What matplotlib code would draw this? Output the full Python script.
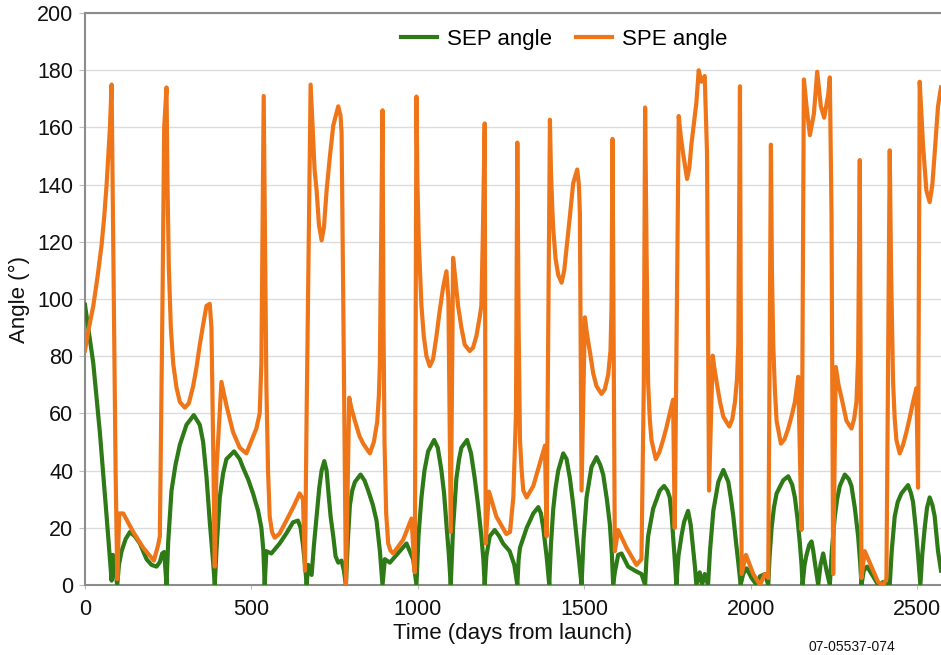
import matplotlib
matplotlib.use('Agg')
import matplotlib.pyplot as plt

plt.rcParams['font.family'] = ['Liberation Sans', 'DejaVu Sans']

# SEP angle (green)
sep_days = [0, 25, 45, 65, 80, 84, 97, 102, 110, 122, 135, 150, 165, 185, 200, 215,
            225, 232, 238, 245,
            250, 260, 272, 285, 305, 327, 345, 355, 365, 375, 385, 390,
            395, 405, 415, 425, 448, 465, 475, 490, 505, 520, 530, 536, 540,
            545, 560, 585, 605, 625, 640, 648, 655, 662, 666,
            671, 681, 688, 696, 704, 711, 719, 726, 731, 738, 746, 753, 761, 771, 778, 784,
            790, 796, 803, 811, 828, 840, 851, 865, 876, 886, 894,
            901, 916, 936, 966, 986, 996,
            1002, 1011, 1020, 1031, 1049, 1060, 1071, 1079, 1086, 1093, 1099,
            1106, 1116, 1124, 1131, 1148, 1160, 1171, 1181, 1191, 1197, 1201,
            1206, 1216, 1231, 1245, 1256, 1276, 1290, 1299,
            1303, 1307, 1327, 1347, 1362, 1370, 1377, 1387, 1395,
            1400, 1407, 1414, 1422, 1437, 1447, 1457, 1467, 1477, 1485, 1492,
            1498, 1507, 1522, 1537, 1548, 1557, 1568, 1577, 1583, 1587,
            1592, 1602, 1612, 1632, 1652, 1672, 1683,
            1687, 1692, 1707, 1727, 1740, 1750, 1757, 1763, 1767, 1772, 1777,
            1783, 1792, 1800, 1812, 1820, 1827, 1833, 1837,
            1847, 1854, 1862, 1872,
            1878, 1888, 1903, 1918, 1933, 1941, 1948, 1956, 1963, 1970,
            1978, 1988, 2003, 2018, 2028, 2043, 2053,
            2057, 2063, 2070, 2078, 2098, 2113, 2125, 2133, 2141, 2148, 2153, 2156,
            2162, 2168, 2176, 2183, 2188, 2193, 2203, 2210, 2218, 2223, 2228, 2238,
            2244, 2253, 2260, 2268, 2283, 2295, 2303, 2313, 2323, 2329, 2333,
            2340, 2350, 2368, 2383, 2398, 2418,
            2424, 2433, 2442, 2453, 2473, 2482, 2488, 2496, 2503, 2510,
            2516, 2523, 2530, 2538, 2546, 2553, 2558, 2563, 2572]
sep_vals = [98, 77.5, 53, 24, 1.5, 10.5, 0, 7, 11.8, 16, 18.5, 17, 14.5, 9, 7, 6.4,
            8, 11, 11.5, 0,
            15, 33, 42, 49, 56, 59.4, 56, 50, 38, 22, 8, 0,
            12, 30.6, 39, 44, 46.7, 44, 41, 37, 32, 26, 20, 12, 0,
            11.8, 11, 14.5, 18, 21.9, 22.5, 20, 14, 6, 0,
            7, 3.5, 14, 24, 34, 40, 43.3, 40, 33, 24, 17, 10, 7.8, 8.5, 5, 0,
            16, 27.9, 33, 36, 38.6, 36.5, 33, 28, 22.5, 12, 0,
            9, 7.8, 10.5, 14.5, 9, 0,
            17, 30.6, 40, 46.7, 50.7, 48, 40, 32, 21.2, 11, 0,
            20, 37.3, 44, 48, 50.7, 46, 37.3, 28, 17, 9, 0,
            10, 17, 19.2, 17, 14.5, 11.8, 7, 0,
            9, 13, 19.9, 25, 27.2, 25, 19.9, 10, 0,
            14, 26.6, 34, 40, 46, 44, 37.3, 28, 17, 8, 0,
            16, 30.6, 41.3, 44.7, 42, 38.6, 30, 21.2, 11, 0,
            4.4, 10.5, 11, 6.4, 5, 3.8, 0,
            9, 17, 26.6, 33, 34.6, 33, 30.6, 24, 17, 9, 0,
            10, 17, 22, 25.9, 21, 13, 6, 0,
            4.4, 0, 3.8, 0,
            12, 26, 36, 40.2, 36, 30, 24, 15, 7.8, 0,
            4, 5.8, 2.4, 0, 3, 3.8, 0,
            10, 19.9, 27, 32, 36.6, 38, 35, 30.6, 23, 14.5, 7, 0,
            7, 10.5, 14, 15.2, 12, 7.8, 0, 7, 11, 8, 5, 0,
            12, 24, 30, 34.6, 38.6, 37, 34.6, 27, 17, 8, 0,
            5, 6.4, 3, 0, 1, 0,
            12, 24, 29, 32, 34.9, 32, 29, 20, 10.5, 0,
            11, 19.9, 27, 30.6, 28, 24, 18, 11.8, 5]

# SPE angle (orange)
spe_days = [0, 12, 25, 38, 50, 58, 65, 70, 75, 80, 85, 92, 97, 103, 115, 145, 175,
            207, 220, 225, 233, 238,
            245, 248, 252, 258, 265, 275, 285, 300, 312, 325, 335, 345, 355, 365,
            375, 380, 385, 390, 395,
            410, 425, 445, 465, 485, 515, 525, 530, 537,
            541, 545, 550, 555, 562, 570, 585, 605, 625, 645, 655, 661, 666,
            678, 684, 690, 696, 703, 711, 718, 726, 736, 746, 761, 768, 771, 776, 784,
            790, 794, 800, 811, 825, 836, 856, 868, 878, 883, 886, 890, 894,
            897, 900, 905, 911, 918, 926, 956, 981, 991,
            996, 999, 1003, 1011, 1018, 1026, 1036, 1046, 1056, 1066, 1076, 1086,
            1092, 1099,
            1106, 1112, 1121, 1131, 1141, 1156, 1166, 1176, 1185, 1191, 1195, 1201,
            1204, 1214, 1236, 1266, 1277, 1287, 1295,
            1299, 1301, 1303, 1307, 1312, 1317, 1327, 1347, 1367, 1382, 1387,
            1397, 1400, 1404, 1407, 1414, 1422, 1432, 1440, 1447, 1457, 1467, 1479,
            1484, 1487, 1492,
            1502, 1508, 1517, 1527, 1537, 1552, 1562, 1572, 1579, 1582, 1585,
            1592, 1602, 1627, 1657, 1672, 1679,
            1683, 1687, 1692, 1697, 1702, 1715, 1726, 1737, 1747, 1757, 1767, 1772,
            1784, 1790, 1797, 1809, 1816, 1822, 1830, 1837, 1844, 1852, 1862, 1869,
            1875,
            1886, 1891, 1898, 1908, 1918, 1936, 1945, 1953, 1959, 1963, 1968,
            1973, 1986, 2008, 2028, 2043, 2053,
            2061, 2064, 2068, 2073, 2078, 2091, 2102, 2113, 2123, 2133, 2143, 2153,
            2160, 2168, 2178, 2190, 2200, 2211, 2221, 2233, 2238, 2243, 2248,
            2256, 2264, 2273, 2288, 2303, 2311, 2318, 2323, 2328,
            2333, 2343, 2363, 2383, 2398, 2408,
            2418, 2422, 2428, 2433, 2438, 2448, 2458, 2468, 2478, 2488, 2498, 2503,
            2508, 2513, 2518, 2528, 2538, 2546, 2553, 2563, 2572]
spe_vals = [82, 90, 97.6, 108, 119, 129, 140, 150, 160, 175, 120, 40, 2, 25, 25, 18.5, 13,
            8.5, 14, 17, 100, 160,
            174, 140, 111, 90, 77.5, 69, 64, 62, 63.5, 69.5, 76, 84, 91, 97.6,
            98.3, 90, 50, 6.4, 40,
            71, 62.8, 53.4, 48, 46, 54.7, 60, 77.5, 171,
            120, 70, 40, 24, 18.5, 16.5, 18, 22.5, 27, 32, 30, 5, 60,
            175, 160, 145, 138, 126, 120.5, 125, 138, 150, 160.7, 167.4, 164, 158, 100, 0,
            40, 65.5, 62, 57.4, 52, 49.4, 46, 50, 57, 66, 77.5, 120, 166,
            90, 50, 25, 14.5, 12, 11, 15.8, 23.2, 4.4,
            170.8, 140, 120, 97.6, 87, 80, 76.5, 79, 87, 96, 104, 109.7,
            100, 18.5,
            114.4, 108, 97.6, 90, 84, 81.8, 83, 87, 93, 97.6, 120, 161.4,
            14.5, 32.6, 23.9, 17.8, 18.5, 30.6, 60,
            154.7, 120, 90, 50.7, 40, 33, 30.6, 34.6, 42.7, 48.7, 17,
            162.7, 145, 132, 124.5, 114, 108.4, 105.7, 110, 117.8, 129, 140.6, 145.3,
            140, 130, 33,
            93.6, 88, 81.6, 74, 69.5, 66.8, 68.5, 73.5, 82, 97, 156,
            11.8, 19.2, 13, 7, 9, 70,
            167, 120, 70.8, 58, 50.7, 44, 46.5, 50.7, 55, 60, 64.8, 19.9,
            164, 157, 151, 142, 146, 154, 162, 168.7, 180, 176, 178, 151,
            33,
            80.2, 76, 70.8, 64, 58.8, 55.4, 58, 64, 72, 84, 174.4,
            3.8, 10.5, 3.8, 0, 3.8, 2.4,
            154, 110, 84, 68, 57.4, 49.4, 51, 54.7, 59, 64, 72.8, 19.2,
            176.8, 167.4, 157.3, 164.7, 179.5, 167.4, 163.4, 171.4, 177.5, 130, 3.8,
            76.2, 70, 65.5, 57.4, 54.7, 58, 64, 80, 148.6,
            2.4, 11.8, 6.4, 1, 0, 2,
            152, 110, 70.8, 58, 50.7, 46, 49, 53.4, 58.5, 64, 68.8, 34,
            176, 165, 154, 138, 133.9, 140, 151, 167.4, 174]

fig = plt.figure(figsize=(9.41, 6.55), dpi=100)
ax = fig.add_axes([0.0903, 0.107, 0.9097, 0.873])

ax.plot(sep_days, sep_vals, color='#2e7a17', lw=3.0, solid_joinstyle='round',
        label='SEP angle', zorder=3)
ax.plot(spe_days, spe_vals, color='#ef7519', lw=3.0, solid_joinstyle='round',
        label='SPE angle', zorder=3)

ax.set_xlim(0, 2572)
ax.set_ylim(0, 200)
ax.set_xticks([0, 500, 1000, 1500, 2000, 2500])
ax.set_yticks(range(0, 201, 20))
ax.yaxis.grid(True, color='#dcdcdc', lw=1)
ax.set_axisbelow(True)

for s in ['left', 'top', 'bottom']:
    ax.spines[s].set_color('#8c8c8c')
    ax.spines[s].set_linewidth(1.5)
ax.spines['right'].set_visible(False)
ax.tick_params(colors='#bdbdbd', labelcolor='#111111', labelsize=15.5)
ax.tick_params(axis='x', length=3, pad=7)
ax.tick_params(axis='y', length=4.5, pad=4)

ax.set_xlabel('Time (days from launch)', fontsize=16, color='#111111', labelpad=2)
ax.set_ylabel('Angle (°)', fontsize=16, color='#111111', labelpad=5)

ax.legend(loc='upper center', bbox_to_anchor=(0.56, 1.0), ncol=2, frameon=False,
          fontsize=16, handlelength=1.6, handletextpad=0.45, columnspacing=1.1,
          borderaxespad=0.3)

fig.text(0.905, 0.012, '07-05537-074', fontsize=10, ha='center', va='center',
         color='#111111')

fig.savefig('out.png', dpi=100)
